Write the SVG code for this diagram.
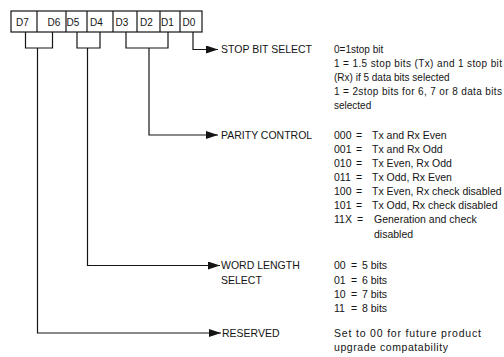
<svg xmlns="http://www.w3.org/2000/svg" width="504" height="357" viewBox="0 0 504 357">
<style>
text{font-family:"Liberation Sans",Arial,sans-serif;fill:#141414}
.cell{font-size:10px;text-anchor:middle}
.lbl{font-size:10.5px}
.d{font-size:10.5px}
.s{font-size:10px}
.ln{fill:none;stroke:#141414;stroke-width:1.2}
</style>
<defs>
<marker id="ah" markerUnits="userSpaceOnUse" markerWidth="12" markerHeight="8" refX="12" refY="4" orient="auto">
<path d="M0,0 L12,4 L0,8 z" fill="#141414"/>
</marker>
</defs>
<rect width="504" height="357" fill="#fff"/>
<g id="register">
<rect class="ln" x="11" y="11" width="191" height="21"/>
<path class="ln" d="M37,11V32 M66,11V32 M87,11V32 M113,11V32 M137,11V32 M160,11V32 M180,11V32"/>
<text class="cell" x="22.5" y="25.5">D7</text>
<text class="cell" x="54" y="25.5">D6</text>
<text class="cell" x="73" y="25.5">D5</text>
<text class="cell" x="96.5" y="25.5">D4</text>
<text class="cell" x="122" y="25.5">D3</text>
<text class="cell" x="146.5" y="25.5">D2</text>
<text class="cell" x="167.5" y="25.5">D1</text>
<text class="cell" x="189" y="25.5">D0</text>
</g>
<g id="connectors">
<path class="ln" d="M25.5,32V48H52.5V32 M77,32V48H100V32 M126,32V48H168V32"/>
<path class="ln" marker-end="url(#ah)" d="M193,32V49.5H218"/>
<path class="ln" marker-end="url(#ah)" d="M149,48V135H218"/>
<path class="ln" marker-end="url(#ah)" d="M87.5,48V265.5H220"/>
<path class="ln" marker-end="url(#ah)" d="M37.5,48V333H221"/>
</g>
<g id="stop-bit-select">
<text class="lbl" x="221" y="53.3">STOP BIT SELECT</text>
<text class="s" x="334" y="53.3">0=1stop bit</text>
<text class="s" x="334" y="67.3" textLength="168" lengthAdjust="spacing">1 = 1.5 stop bits (Tx) and 1 stop bit</text>
<text class="s" x="334" y="81.3">(Rx) if 5 data bits selected</text>
<text class="s" x="334" y="95.3" textLength="168" lengthAdjust="spacing">1 = 2stop bits for 6, 7 or 8 data bits</text>
<text class="s" x="334" y="109.3">selected</text>
</g>
<g id="parity-control">
<text class="lbl" x="221" y="138.8">PARITY CONTROL</text>
<text class="d" y="138.8"><tspan x="334">000</tspan><tspan x="356">=</tspan><tspan x="372">Tx and Rx Even</tspan></text>
<text class="d" y="152.9"><tspan x="334">001</tspan><tspan x="356">=</tspan><tspan x="372">Tx and Rx Odd</tspan></text>
<text class="d" y="167"><tspan x="334">010</tspan><tspan x="356">=</tspan><tspan x="372">Tx Even, Rx Odd</tspan></text>
<text class="d" y="181.1"><tspan x="334">011</tspan><tspan x="356">=</tspan><tspan x="372">Tx Odd, Rx Even</tspan></text>
<text class="d" y="195.2"><tspan x="334">100</tspan><tspan x="356">=</tspan><tspan x="372">Tx Even, Rx check disabled</tspan></text>
<text class="d" y="209.3"><tspan x="334">101</tspan><tspan x="356">=</tspan><tspan x="372">Tx Odd, Rx check disabled</tspan></text>
<text class="d" y="223.4"><tspan x="334">11X</tspan><tspan x="357">=</tspan><tspan x="374">Generation and check</tspan></text>
<text class="d" x="374" y="237.5">disabled</text>
</g>
<g id="word-length-select">
<text class="lbl" x="221" y="269.3">WORD LENGTH</text>
<text class="lbl" x="221" y="283.5">SELECT</text>
<text class="d" y="269.3"><tspan x="334">00</tspan><tspan x="351">=</tspan><tspan x="362">5 bits</tspan></text>
<text class="d" y="283.5"><tspan x="334">01</tspan><tspan x="351">=</tspan><tspan x="362">6 bits</tspan></text>
<text class="d" y="297.7"><tspan x="334">10</tspan><tspan x="351">=</tspan><tspan x="362">7 bits</tspan></text>
<text class="d" y="311.9"><tspan x="334">11</tspan><tspan x="351">=</tspan><tspan x="362">8 bits</tspan></text>
</g>
<g id="reserved">
<text class="lbl" x="222" y="336.8">RESERVED</text>
<text class="d" x="334" y="336.8" textLength="147" lengthAdjust="spacing">Set to 00 for future product</text>
<text class="d" x="334" y="351" textLength="114" lengthAdjust="spacing">upgrade compatability</text>
</g>
</svg>
